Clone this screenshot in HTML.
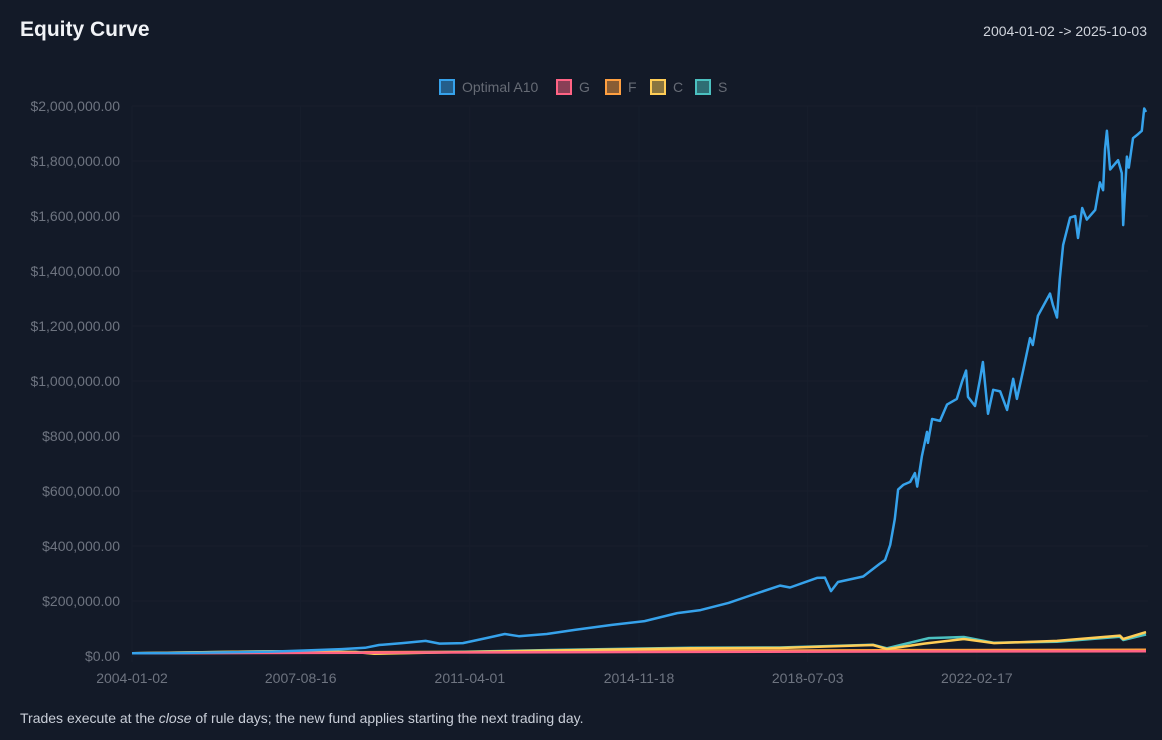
<!DOCTYPE html>
<html><head><meta charset="utf-8"><style>
body{margin:0;width:1162px;height:740px;background:#131a28;font-family:"Liberation Sans",sans-serif;overflow:hidden;position:relative}
.title{position:absolute;left:20px;top:18px;font-size:21px;font-weight:bold;color:#f1f3f7}
.range{position:absolute;right:15px;top:23px;font-size:14px;color:#d0d4dc}
.foot{position:absolute;left:20px;top:710px;font-size:14px;color:#c9ced8}
svg{position:absolute;left:0;top:0}
</style></head><body>
<div class="title">Equity Curve</div>
<div class="range">2004-01-02 -&gt; 2025-10-03</div>
<div class="foot">Trades execute at the <i>close</i> of rule days; the new fund applies starting the next trading day.</div>
<svg id="chart" width="1162" height="740"></svg>
<script>
const seriesNames=["Optimal A10","G","F","C","S"];
const seriesColors=["#36a2eb","#ff6384","#ff9f40","#ffcd56","#4bc0c0"];
const yTicks=[0,200000,400000,600000,800000,1000000,1200000,1400000,1600000,1800000,2000000];
const xTickLabels=["2004-01-02","2007-08-16","2011-04-01","2014-11-18","2018-07-03","2022-02-17"];
const xTickYears=[0,3.62,7.25,10.88,14.5,18.13];
const aT=[0,1,2,3,3.7,4.5,5,5.3,5.8,6.3,6.6,7.1,7.6,8,8.3,8.9,9.5,10.3,11,11.7,12.2,12.8,13.3,13.91,14.12,14.7,14.87,15,15.15,15.69,16.05,16.16,16.27,16.37,16.44,16.55,16.7,16.8,16.85,16.95,17.06,17.08,17.17,17.34,17.49,17.7,17.81,17.9,17.94,18.09,18.2,18.26,18.37,18.48,18.63,18.78,18.91,18.99,19.12,19.27,19.33,19.44,19.7,19.76,19.85,19.91,19.98,20.13,20.24,20.3,20.39,20.49,20.67,20.77,20.84,20.88,20.92,20.99,21.16,21.24,21.27,21.35,21.39,21.48,21.59,21.67,21.72,21.76];
const aV=[10,11,13,16,20,25,30,40,47,55,45,47,65,80,72,80,95,113,127,156,167,193,222,256,249,284,285,236,269,289,336,349,404,498,605,622,633,665,616,727,815,775,862,855,914,935,996,1038,942,909,1008,1069,881,968,962,895,1008,935,1036,1156,1131,1237,1318,1278,1231,1372,1494,1594,1600,1520,1629,1587,1622,1722,1694,1843,1910,1769,1803,1756,1567,1816,1776,1883,1898,1910,1991,1978];
const gT=[0,5,10,15,21.76];
const gV=[10,12,14,16,17];
const fT=[0,4,8,12,16,21.76];
const fV=[10,13,16,19,21,23];
const cT=[0,3,4.8,5.2,7,9,12,13.9,15.9,16.2,17,17.85,18.5,19.85,21.2,21.27,21.76];
const cV=[10,17,14,8,14,20,28,29,40,25,45,62,47,55,74,62,87];
const sT=[0,3,4.8,5.2,7,9,12,13.9,15.9,16.2,17.1,17.85,18.5,19.85,21.2,21.27,21.76];
const sV=[10,17,15,9,15,22,30,31,41,28,65,69,48,52,70,58,78];
const NS="http://www.w3.org/2000/svg",svg=document.getElementById("chart");
const X0=132,PX=46.6,Y0=656,YMAX=2000000,YH=550;
const xs=t=>X0+t*PX, ys=v=>Y0-v/YMAX*YH;
function mk(tag,at){const e=document.createElementNS(NS,tag);for(const k in at)e.setAttribute(k,at[k]);svg.appendChild(e);return e;}
yTicks.forEach(v=>{
  const l=mk("line",{x1:X0,x2:1148,y1:ys(v),y2:ys(v),stroke:"#181f2d","stroke-width":1});
  
  
  const t=mk("text",{x:120,y:ys(v)+5,"text-anchor":"end","font-size":14,fill:"#6e7480"});
  t.textContent="$"+v.toLocaleString("en-US",{minimumFractionDigits:2});
  
  
});
xTickYears.forEach((y,i)=>{
  const l=mk("line",{x1:xs(y),x2:xs(y),y1:106,y2:662,stroke:"#171e2c","stroke-width":1});
  
  
  const t=mk("text",{x:xs(y),y:683,"text-anchor":"middle","font-size":14,fill:"#6e7480"});
  t.textContent=xTickLabels[i];
  
  
});
const data=[[aT,aV],[gT,gV],[fT,fV],[cT,cV],[sT,sV]];
[2,4,3,1,0].forEach(i=>{
  const [T,V]=data[i];
  const d=T.map((t,j)=>(j?"L":"M")+xs(t).toFixed(1)+","+ys(V[j]*1000).toFixed(1)).join("");
  const p=mk("path",{d:d,fill:"none",stroke:seriesColors[i],"stroke-width":2.5,"stroke-linejoin":"round"});
  
  
});
const legX=[439,556,605,650,695];
seriesNames.forEach((n,i)=>{
  const g=mk("g",{});
  
  
  const r=document.createElementNS(NS,"rect");
  [["x",legX[i]+1],["y",80],["width",14],["height",14],["fill",seriesColors[i]],["fill-opacity",0.5],["stroke",seriesColors[i]],["stroke-width",2]].forEach(a=>r.setAttribute(a[0],a[1]));
  g.appendChild(r);
  const t=document.createElementNS(NS,"text");
  t.setAttribute("x",legX[i]+23);t.setAttribute("y",92);t.setAttribute("font-size",14);t.setAttribute("fill","#666b75");
  t.textContent=n;g.appendChild(t);
});
</script>
</body></html>
